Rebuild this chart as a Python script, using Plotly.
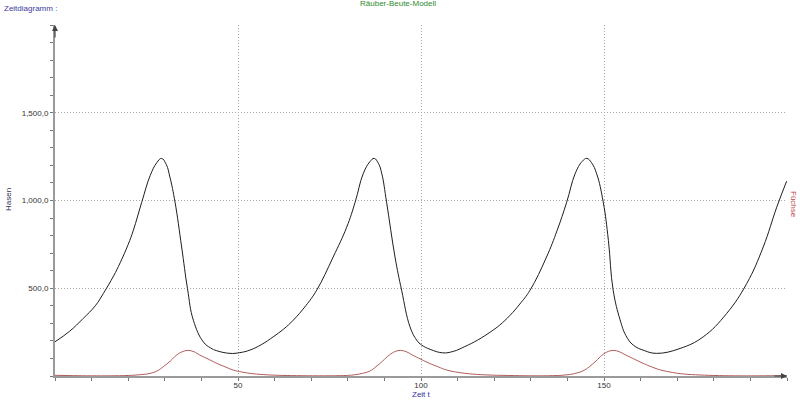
import plotly.graph_objects as go

# Hasen (black) - time and values
t_hasen = [0, 4, 7.7, 11, 13.2, 16, 17.8, 20, 21.4, 23.7, 26, 27.8, 29.1, 30.4, 31.4, 32.8, 34.6, 36.2,
           37.8, 40.5, 42.5, 44.2, 47.8, 50.5, 53.3, 56.5, 59.6, 62.5, 65.1, 68.5, 71.5, 76.0, 79.7, 82.0,
           84.2, 86, 87.2, 88.4, 89.3, 90.6, 92.9, 94.7, 97.0, 98.8, 100.2, 102.5, 105.9, 108.8, 112,
           115.5, 118.9, 121.5, 124.3, 127, 129.8, 134.3, 137.2, 139.8, 142.1, 144, 145.3, 146.6, 148,
           149.8, 151.2, 152.5, 154.4, 156, 158, 161, 164.4, 170.8, 177.1, 183.5, 189, 193.5, 197.2, 199.9]
hasen = [195, 255, 328, 400, 470, 570, 645, 750, 830, 990, 1142, 1215, 1240, 1205, 1133, 990, 735, 498,
         318, 195, 160, 144, 129, 133, 148, 180, 223, 268, 318, 400, 489, 678, 848, 990,
         1152, 1220, 1240, 1210, 1152, 990, 678, 489, 280, 205, 176, 152, 132, 140, 168,
         205, 250, 290, 345, 410, 489, 678, 830, 990, 1152, 1222, 1240, 1215, 1152,
         990, 773, 489, 320, 230, 176, 145, 129, 157, 223, 356, 527, 735, 962, 1110]

# Füchse (red)
t_fuechse = [0, 5, 10, 15, 20, 23, 26, 28, 29.6, 31.5, 33.2, 35, 36.4, 38, 39.6, 42, 44.2, 46.5, 48.7, 51,
             53.3, 57, 61, 66, 72, 78, 81, 84, 86, 87.7, 89.5, 91.3, 93, 94.4, 96, 97.7, 100, 102.3, 104.7,
             107, 109.5, 113, 118, 124, 130, 136, 139, 142, 144.3, 146, 147.8, 149.5, 151.2, 152.7, 154.2,
             156, 158.4, 160.7, 163, 165.5, 168, 171, 175, 180, 186, 192, 200]
fuechse = [4, 2, 1, 1, 3, 7, 15, 30, 53, 85, 119, 140, 146, 138, 119, 95, 72, 52, 34, 23,
           15, 8, 4, 2, 1, 2, 5, 15, 28, 53, 85, 119, 140, 146, 138, 119, 95, 72, 52,
           34, 23, 13, 6, 3, 1, 2, 5, 14, 30, 53, 85, 119, 140, 146, 138,
           119, 95, 72, 52, 34, 23, 13, 7, 3, 1, 1, 2]

y_tickvals = [500, 1000, 1500]
y_ticktext = ["500,0", "1,000,0", "1,500,0"]
x_tickvals = [50, 100, 150]
x_ticktext = ["50", "100", "150"]

FONT = "Liberation Sans"
L, R, T, B = 55, 13, 25, 24
PW, PH = 800 - L - R, 400 - T - B


def px(x):
    return (x - L) / PW


def py(y):
    return (400 - B - y) / PH


fig = go.Figure()
fig.add_trace(go.Scatter(x=t_hasen, y=hasen, mode="lines", name="Hasen",
                         line=dict(color="#1e1e1e", width=1, shape="spline", smoothing=1.2)))
fig.add_trace(go.Scatter(x=t_fuechse, y=fuechse, mode="lines", name="Füchse",
                         line=dict(color="#b05a5a", width=1, shape="spline", smoothing=1.2)))

axis_common = dict(showline=True, linecolor="#9a9a9a", linewidth=2, tickmode="array",
                   ticks="outside", ticklen=3, tickcolor="#777777",
                   showgrid=True, gridcolor="#a8a8a8", griddash="1px,2px", gridwidth=1,
                   zeroline=False, automargin=False, tickfont=dict(size=8, color="#333333"))

fig.update_layout(
    width=800, height=400,
    margin=dict(l=L, r=R, t=T, b=B, autoexpand=False),
    plot_bgcolor="white", paper_bgcolor="white",
    showlegend=False,
    font=dict(family=FONT, size=8, color="#333333"),
    xaxis=dict(range=[0, 200], tickvals=x_tickvals, ticktext=x_ticktext, ticklabelstandoff=-3,
               minor=dict(tickmode="linear", tick0=0, dtick=10, ticks="outside", ticklen=3,
                          tickcolor="#777777", showgrid=False), **axis_common),
    yaxis=dict(range=[0, 2000], tickvals=y_tickvals, ticktext=y_ticktext,
               minor=dict(tickmode="linear", tick0=0, dtick=100, ticks="outside", ticklen=3,
                          tickcolor="#777777", showgrid=False), **axis_common),
    annotations=[
        dict(text="Zeitdiagramm :", xref="paper", yref="paper", x=px(2), y=py(8),
             xanchor="left", yanchor="middle", showarrow=False,
             font=dict(size=8, color="#3a3a9a", family=FONT)),
        dict(text="Räuber-Beute-Modell", xref="paper", yref="paper", x=px(398), y=py(4),
             xanchor="center", yanchor="middle", showarrow=False,
             font=dict(size=8, color="#2e8b2e", family=FONT)),
        dict(text="Hasen", xref="paper", yref="paper", x=px(8), y=py(200),
             xanchor="center", yanchor="middle", textangle=-90, showarrow=False,
             font=dict(size=8, color="#333355", family=FONT)),
        dict(text="Füchse", xref="paper", yref="paper", x=px(793), y=py(205),
             xanchor="center", yanchor="middle", textangle=90, showarrow=False,
             font=dict(size=8, color="#c04848", family=FONT)),
        dict(text="Zeit t", xref="paper", yref="paper", x=px(421), y=py(394),
             xanchor="center", yanchor="middle", showarrow=False,
             font=dict(size=8, color="#3030a0", family=FONT)),
        dict(text="", xref="paper", yref="paper", x=0, y=1, ax=0, ay=14,
             showarrow=True, arrowhead=2, arrowsize=1, arrowwidth=1.2, arrowcolor="#444444"),
        dict(text="", xref="paper", yref="paper", x=1, y=0, ax=-14, ay=0,
             showarrow=True, arrowhead=2, arrowsize=1, arrowwidth=1.2, arrowcolor="#444444"),
    ],
)

fig.write_html("out.html", config={"displayModeBar": False},
               post_script="document.body.style.margin='0';")
